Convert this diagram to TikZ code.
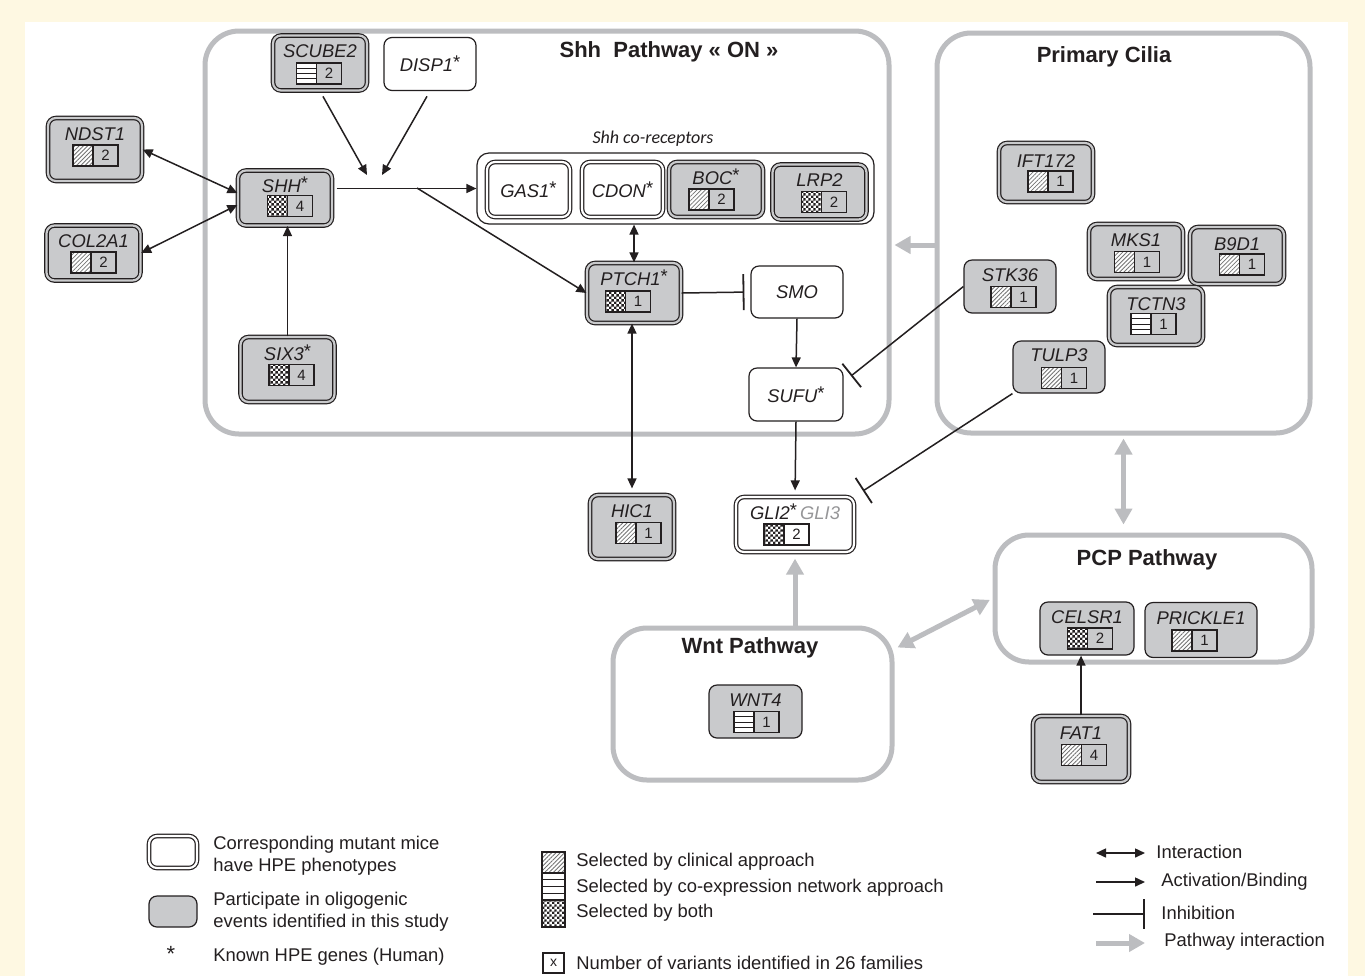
\documentclass[tikz,border=0pt]{standalone}
\usepackage{fontspec}
\setmainfont{Liberation Sans}
\newfontfamily\calfont{Carlito}
\usetikzlibrary{arrows.meta,positioning,calc,fit,patterns,patterns.meta}

\definecolor{cream}{RGB}{254,248,226}
\definecolor{pwgray}{RGB}{188,189,192}
\definecolor{genegray}{RGB}{201,202,204}
\definecolor{ink}{RGB}{35,31,32}
\definecolor{gligray}{RGB}{150,150,152}

\pgfdeclarepatternformonly{finecheck}{\pgfqpoint{0pt}{0pt}}{\pgfqpoint{2.4pt}{2.4pt}}{\pgfqpoint{2.4pt}{2.4pt}}{%
  \pgfpathrectangle{\pgfqpoint{0pt}{0pt}}{\pgfqpoint{1.2pt}{1.2pt}}%
  \pgfpathrectangle{\pgfqpoint{1.2pt}{1.2pt}}{\pgfqpoint{1.2pt}{1.2pt}}%
  \pgfusepath{fill}}

\newcommand{\hpe}{{\upshape\raisebox{1.3pt}{*}}}
\newcommand{\genemarks}[4]{%
  \node[markbox, #2] (#1-p) at ($(#1)+(#4)+(-12.5,0)$) {};
  \node[markbox, numbox] (#1-n) at ($(#1)+(#4)+(10,0)$) {#3};
}

\begin{document}
\begin{tikzpicture}[
  x=0.5pt, y=-0.5pt,
  pathway/.style={draw=pwgray, line width=2.5pt, rounded corners=17pt, inner sep=0pt},
  pwtitle/.style={font=\fontsize{11}{13}\selectfont\bfseries, text=ink},
  gene/.style={rounded corners=4pt, minimum width=47pt, minimum height=27.5pt, inner sep=1pt, line width=0.6pt, draw=ink, text=ink, font=\fontsize{9.2}{11}\selectfont\itshape},
  gdbl/.style={gene, fill=genegray, double=genegray, double distance=1.1pt},
  gsgl/.style={gene, fill=genegray},
  wdbl/.style={gene, fill=white, double=white, double distance=1.1pt},
  wsgl/.style={gene, fill=white},
  marked/.style={text height=7pt, text depth=#1},
  marked/.default=12.5pt,
  markbox/.style={draw=ink, line width=0.6pt, minimum width=10pt, minimum height=10.5pt, inner sep=0pt},
  numbox/.style={minimum width=12.5pt, font=\fontsize{7.5}{8}\selectfont, text=ink},
  hatch/.style={preaction={fill=white}, pattern={Lines[angle=45,distance=1.5pt,line width=0.4pt]}, pattern color=black!55},
  check/.style={preaction={fill=white}, pattern=finecheck, pattern color=ink},
  coexp/.style={fill=white, path picture={
    \foreach \k in {1,2,3}
      \draw[ink, line width=0.5pt] ($(path picture bounding box.north west)!\k/4!(path picture bounding box.south west)$) -- ($(path picture bounding box.north east)!\k/4!(path picture bounding box.south east)$);}},
  act/.style={draw=ink, line width=0.75pt, -{Triangle[length=5pt,width=4.5pt]}},
  inter/.style={act, {Triangle[length=5pt,width=4.5pt]}-{Triangle[length=5pt,width=4.5pt]}},
  inhib/.style={draw=ink, line width=0.75pt, -{Bar[width=15pt,line width=0.9pt]}},
  pwarrow/.style={draw=pwgray, line width=2.5pt, -{Triangle[length=8pt,width=8.5pt]}},
  pwboth/.style={pwarrow, {Triangle[length=8pt,width=8.5pt]}-{Triangle[length=8pt,width=8.5pt]}},
  legend/.style={font=\fontsize{9.2}{11}\selectfont, text=ink, align=left, anchor=west, inner sep=0pt}
]
  \fill[cream] (0,0) rectangle (1365,976);
  \fill[white] (25,22) rectangle (1348,976);

  \node[pathway, fit={(205,31)(889,434)}] (shhbox) {};
  \node[pathway, fit={(937,33)(1310,433)}] (pcbox) {};
  \node[pathway, fit={(995,535)(1312,662)}] (pcpbox) {};
  \node[pathway, fit={(613,628)(892,780)}] (wntbox) {};

  \node[pwtitle] (shhtitle) at (669,52) {Shh\ \ Pathway « ON »};
  \node[pwtitle] (pctitle) at (1104,57) {Primary Cilia};
  \node[pwtitle] (pcptitle) at (1147,560) {PCP Pathway};
  \node[pwtitle] (wnttitle) at (750,648) {Wnt Pathway};

  \node[font=\calfont\itshape\fontsize{9}{11}\selectfont, text=ink] (corectitle) at (653,139) {Shh co-receptors};
  \node[draw=ink, line width=0.6pt, fill=white, rounded corners=6pt, minimum width=198.5pt, minimum height=35.5pt, inner sep=0pt] (corec) at (675.5,188.5) {};

  \node[gdbl, marked] (scube2) at (320,63) {SCUBE2};
  \node[wsgl, minimum width=46pt, minimum height=26.5pt] (disp1) at (430,64) {DISP1\hpe};
  \node[gdbl, marked=16.5pt, minimum height=31.5pt] (ndst1) at (95,149.5) {NDST1};
  \node[gdbl, marked] (col2a1) at (93.5,253) {COL2A1};
  \node[gdbl, marked] (shh) at (285,198) {SHH\hpe};
  \node[gdbl, marked=16.5pt, minimum height=32.5pt] (six3) at (287.5,369.5) {SIX3\hpe};
  \node[wdbl, minimum width=41.5pt] (gas1) at (528.5,189.5) {GAS1\hpe};
  \node[wdbl, minimum width=40.5pt] (cdon) at (622.5,189.5) {CDON\hpe};
  \node[gdbl, marked] (boc) at (716,189.5) {BOC\hpe};
  \node[gdbl, marked] (lrp2) at (819.5,192) {LRP2};
  \node[gdbl, marked=14.5pt, minimum height=30pt] (ptch1) at (634,293) {PTCH1\hpe};
  \node[wsgl, minimum width=46pt, minimum height=26pt] (smo) at (797,292) {SMO};
  \node[wsgl, minimum height=26.5pt] (sufu) at (796,394.5) {SUFU\hpe};
  \node[gdbl, marked, minimum height=29.5pt] (ift172) at (1046,172.5) {IFT172};
  \node[gdbl, marked] (mks1) at (1136,251.5) {MKS1};
  \node[gdbl, marked, minimum height=28.5pt] (b9d1) at (1237,255.5) {B9D1};
  \node[gsgl, marked, minimum width=46pt, minimum height=26.5pt] (stk36) at (1010,286.5) {STK36};
  \node[gdbl, marked, minimum height=29pt] (tctn3) at (1156,316) {TCTN3};
  \node[gsgl, marked, minimum width=46pt, minimum height=26pt] (tulp3) at (1059,367) {TULP3};
  \node[gdbl, marked=16.5pt, minimum width=42pt, minimum height=32pt] (hic1) at (632,527) {HIC1};
  \node[wdbl, marked, minimum width=59pt] (gli) at (795,524.5) {GLI2\hpe\,\textcolor{gligray}{GLI3}};
  \node[gsgl, marked, minimum width=46.5pt, minimum height=26.5pt] (wnt4) at (755.5,711.5) {WNT4};
  \node[gsgl, marked, minimum height=26.5pt] (celsr1) at (1087,628.5) {CELSR1};
  \node[gsgl, marked, minimum width=56pt] (prickle1) at (1201,630) {PRICKLE1};
  \node[gdbl, marked=16.5pt, minimum width=48pt, minimum height=33pt] (fat1) at (1081,749) {FAT1};

  \genemarks{scube2}{coexp}{2}{-1,10.5}
  \genemarks{ndst1}{hatch}{2}{0.5,6}
  \genemarks{col2a1}{hatch}{2}{0,9.5}
  \genemarks{shh}{check}{4}{5,8}
  \genemarks{six3}{check}{4}{4,5.5}
  \genemarks{boc}{hatch}{2}{-4.5,10}
  \genemarks{lrp2}{check}{2}{4.5,10}
  \genemarks{ptch1}{check}{1}{-6,8.5}
  \genemarks{ift172}{hatch}{1}{4.5,9}
  \genemarks{mks1}{hatch}{1}{1,10.5}
  \genemarks{b9d1}{hatch}{1}{5,9}
  \genemarks{stk36}{hatch}{1}{3.5,10.5}
  \genemarks{tctn3}{coexp}{1}{-2.5,8}
  \genemarks{tulp3}{hatch}{1}{5,11}
  \genemarks{hic1}{hatch}{1}{6.5,6}
  \genemarks{gli}{check}{2}{-8.5,10}
  \genemarks{wnt4}{coexp}{1}{1,10.5}
  \genemarks{celsr1}{check}{2}{3,10}
  \genemarks{prickle1}{hatch}{1}{-6.5,10.5}
  \genemarks{fat1}{hatch}{4}{3,6}

  \coordinate (hubl) at (367,175);
  \coordinate (hubr) at (382,175);
  \coordinate (fork) at (417,188);
  \coordinate (sufuin) at (851,376);

  \draw[act, shorten <=3pt] (scube2.south) -- (hubl);
  \draw[act, shorten <=3pt] (disp1.south) -- (hubr);
  \draw[act, shorten <=2pt] (shh.east |- corec.west) -- (corec.west);
  \draw[act] (fork) -- (ptch1.west);
  \draw[inter] (ndst1.east) -- ($(shh.west)+(0,-5)$);
  \draw[inter] (col2a1.east) -- ($(shh.west)+(0,7)$);
  \draw[act] (six3.north) -- (six3.north |- shh.south);
  \draw[inter] (ptch1.north |- corec.south) -- (ptch1.north);
  \draw[inter, shorten >=3pt] (hic1.north |- ptch1.south) -- (hic1.north);
  \draw[inhib, -{Bar[width=18pt,line width=0.9pt]}, shorten >=3pt] (ptch1.east) -- (smo.west);
  \draw[act] (smo.south) -- (sufu.north);
  \draw[act, shorten >=3pt] (sufu.south) -- (gli.north);
  \draw[inhib] (stk36.west) -- (sufuin);
  \draw[inhib, shorten >=5pt] (tulp3.south west) -- (gli.north east);
  \draw[act] (fat1.north) -- (fat1.north |- celsr1.south);

  \draw[pwarrow, shorten >=1.5pt] ([yshift=-6pt]pcbox.west) -- ([yshift=-6pt]pcbox.west -| shhbox.east);
  \draw[pwboth, shorten <=1.5pt, shorten >=4pt] (pcbox.south) -- (pcbox.south |- pcpbox.north);
  \draw[pwboth, shorten >=1.5pt] ($(wntbox.north east)+(3,22)$) -- (pcpbox.west);
  \draw[pwarrow, shorten >=3pt] (gli.south |- wntbox.north) -- (gli.south);

  \node[wdbl, minimum width=24pt, minimum height=16pt] (legwhite) at (173,852) {};
  \node[gsgl, minimum width=24pt, minimum height=15.5pt] (leggray) at (173,911.5) {};
  \node[legend] (legwhitetxt) at (213,856) {Corresponding mutant mice\\have HPE phenotypes};
  \node[legend] (leggraytxt) at (213,912) {Participate in oligogenic\\events identified in this study};
  \node[font=\fontsize{11}{12}\selectfont, text=ink, anchor=base, inner sep=0pt] (legstar) at (171,961.5) {*};
  \node[legend, anchor=base west] (legstartxt) at (213,961.5) {Known HPE genes (Human)};

  \node[markbox, hatch, minimum width=11.5pt, minimum height=10.5pt] (leghatch) at (553.5,862.5) {};
  \node[markbox, coexp, minimum width=11.5pt, minimum height=13.5pt] (legcoexp) at (553.5,886.5) {};
  \node[markbox, check, minimum width=11.5pt, minimum height=13.5pt] (legcheck) at (553.5,913.5) {};
  \node[legend] (leghatchtxt) at (576,862) {Selected by clinical approach};
  \node[legend] (legcoexptxt) at (576,888) {Selected by co-expression network approach};
  \node[legend] (legchecktxt) at (576,913) {Selected by both};
  \node[markbox, minimum width=10.5pt, minimum height=10pt, font=\fontsize{7}{8}\selectfont, text=ink] (legnum) at (553.5,963) {x};
  \node[legend] (legnumtxt) at (576,963) {Number of variants identified in 26 families};

  \coordinate (lia) at (1096,853);
  \coordinate (lib) at (1145,853);
  \coordinate (laa) at (1096,882);
  \coordinate (lab) at (1145,882);
  \coordinate (lha) at (1093,914);
  \coordinate (lhb) at (1145,914);
  \coordinate (lpa) at (1096,943);
  \coordinate (lpb) at (1145,943);
  \draw[inter] (lia) -- (lib);
  \draw[act] (laa) -- (lab);
  \draw[inhib] (lha) -- (lhb);
  \draw[pwarrow] (lpa) -- (lpb);
  \node[legend] (leginter) at (1156,852) {Interaction};
  \node[legend] (legact) at (1161,882) {Activation/Binding};
  \node[legend] (leginhib) at (1161,913) {Inhibition};
  \node[legend] (legpw) at (1164,942) {Pathway interaction};
\end{tikzpicture}
\end{document}
